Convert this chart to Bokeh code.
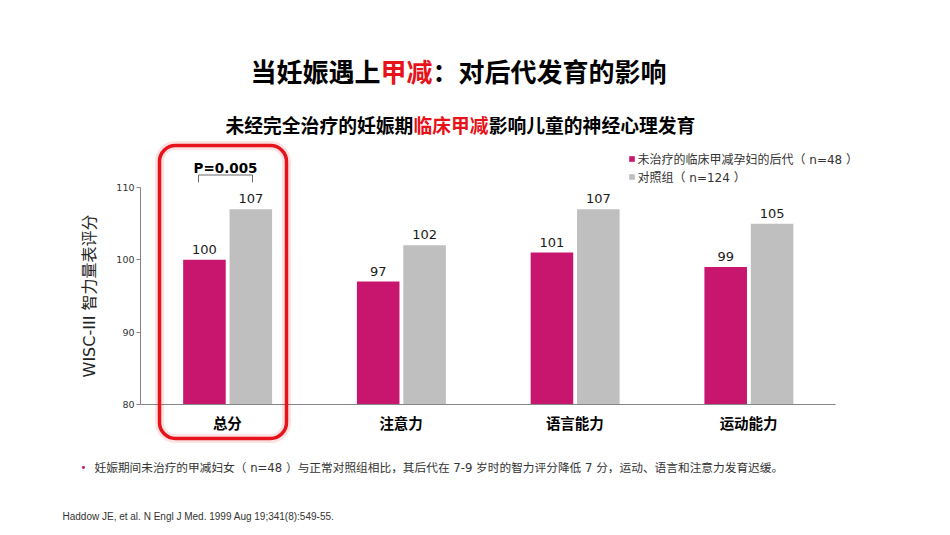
import math

from bokeh.plotting import figure
from bokeh.models import (ColumnDataSource, FactorRange, Range1d, FixedTicker, Label,
                          BoxAnnotation, Arrow, Legend, LegendItem)
from bokeh.transform import dodge
from bokeh.core.properties import value
from bokeh.embed import file_html
from bokeh.resources import INLINE

# ---- data -------------------------------------------------------------
categories = ["总分", "注意力", "语言能力", "运动能力"]
untreated = [100, 97, 101, 99]      # offspring of untreated hypothyroid mothers
control = [107, 102, 107, 105]      # control group
y_ticks = [80, 90, 100, 110]
series_names = ["未治疗的临床甲减孕妇的后代（ n=48 ）", "对照组（ n=124 ）"]
p_value_text = "P=0.005"
y_title = "WISC-III 智力量表评分"

title_parts = [("当妊娠遇上", "black"), ("甲减", "red"), ("：对后代发育的影响", "black")]
subtitle_parts = [("未经完全治疗的妊娠期", "black"), ("临床甲减", "red"), ("影响儿童的神经心理发育", "black")]
note_text = "妊娠期间未治疗的甲减妇女（ n=48 ）与正常对照组相比，其后代在 7-9 岁时的智力评分降低 7 分，运动、语言和注意力发育迟缓。"
citation = "Haddow JE, et al. N Engl J Med. 1999 Aug 19;341(8):549-55."

# ---- styling ----------------------------------------------------------
MAGENTA = "#C8166E"
GREY = "#BFBFBF"
RED = "#E8121A"
AXIS = "#868686"
CJK = "Noto Sans CJK SC"
MIXED = "DejaVu Sans, Noto Sans CJK SC"

W, H = 950, 535
# where the value axes sit on the canvas (pixels from top-left)
AX_L, AX_R, AX_T, AX_B = 140, 835, 187, 404
Y0, Y1 = y_ticks[0], y_ticks[-1]
FRAME_L = 25                         # plotting frame spans x = 25..950, y = 0..535

PX_PER_CAT = (AX_R - AX_L) / len(categories)
PX_PER_Y = (AX_B - AX_T) / (Y1 - Y0)


def fx(px):
    """canvas x pixel -> categorical synthetic coordinate"""
    return (px - AX_L) / PX_PER_CAT


def fy(py):
    """canvas y pixel -> data y"""
    return Y0 + (AX_B - py) / PX_PER_Y


# absolute padding (applied on each side) so that category 0 starts at AX_L
pad_units = (AX_L - FRAME_L) / PX_PER_CAT
x_range = FactorRange(factors=categories, range_padding=pad_units,
                      range_padding_units="absolute")
y_range = Range1d(fy(H), fy(0))

p = figure(width=W, height=H, x_range=x_range, y_range=y_range,
           output_backend="svg", toolbar_location=None,
           min_border_left=FRAME_L, min_border_right=0,
           min_border_top=0, min_border_bottom=0)
p.outline_line_color = None
p.grid.visible = False
p.background_fill_color = "white"
p.border_fill_color = "white"

LBL_GAP = 10.5 / PX_PER_Y            # value labels sit just above each bar
src = ColumnDataSource(dict(
    cat=categories, a=untreated, b=control,
    a_txt=[str(v) for v in untreated], b_txt=[str(v) for v in control],
    a_lbl=[v + LBL_GAP for v in untreated],
    b_lbl=[v + LBL_GAP for v in control],
))

OFF_A, OFF_B, BW = -0.132, 0.135, 0.245
ra = p.vbar(x=dodge("cat", OFF_A, range=p.x_range), top="a", bottom=Y0, width=BW,
            source=src, fill_color=MAGENTA, line_color=None)
rb = p.vbar(x=dodge("cat", OFF_B, range=p.x_range), top="b", bottom=Y0, width=BW,
            source=src, fill_color=GREY, line_color=None)

for off, col in ((OFF_A, "a"), (OFF_B, "b")):
    p.text(x=dodge("cat", off, range=p.x_range), y=col + "_lbl", text=col + "_txt", source=src,
           text_align="center", text_baseline="alphabetic",
           text_font=value("DejaVu Sans"), text_font_size="13px", text_color="#1a1a1a")

# ---- axes (pinned inside the frame) -----------------------------------
ya = p.yaxis[0]
ya.fixed_location = 0
ya.bounds = (Y0, Y1)
ya.ticker = FixedTicker(ticks=y_ticks)
ya.minor_tick_line_color = None
ya.major_tick_in = 0
ya.major_tick_out = 4
ya.major_tick_line_color = AXIS
ya.axis_line_color = AXIS
ya.major_label_standoff = 2
ya.major_label_text_font = "DejaVu Sans"
ya.major_label_text_font_size = "9.5px"
ya.major_label_text_color = "#333333"

xa = p.xaxis[0]
xa.fixed_location = Y0
xa.bounds = (0, len(categories))
xa.axis_line_color = AXIS
xa.major_tick_line_color = None
xa.minor_tick_line_color = None
xa.major_tick_in = 0
xa.major_tick_out = 0
xa.major_label_standoff = 7
xa.major_label_text_font = CJK
xa.major_label_text_font_style = "bold"
xa.major_label_text_font_size = "14.5px"
xa.major_label_text_color = "black"

p.add_layout(Label(x=fx(89), y=fy(295.5), text=y_title, angle=math.pi / 2,
                   text_align="center", text_baseline="middle",
                   text_font=MIXED, text_font_size="16px", text_color="#222222"))

# ---- legend -----------------------------------------------------------
legend = Legend(items=[LegendItem(label=series_names[0], renderers=[ra]),
                       LegendItem(label=series_names[1], renderers=[rb])],
                location=(627.5 - FRAME_L, H - 185), orientation="vertical",
                glyph_width=7, glyph_height=7, label_height=18, label_standoff=3,
                padding=0, spacing=0, margin=0,
                border_line_color=None, background_fill_alpha=0,
                label_text_font=MIXED, label_text_font_size="12px",
                label_text_color="#333333")
p.add_layout(legend, "center")

# ---- highlight box around the total score group ------------------------
box_kw = dict(left=fx(159), right=fx(286), top=fy(145), bottom=fy(438),
              fill_color=None, border_radius=16)
p.add_layout(BoxAnnotation(line_color=RED, line_alpha=0.12, line_width=9, **box_kw))
p.add_layout(BoxAnnotation(line_color=RED, line_alpha=1.0, line_width=3.5, **box_kw))

# significance bracket over the total score pair
bx0, bx1 = fx(198), fx(252)
by_top, by_bot = fy(174.5), fy(182)
for xs, ys, xe, ye in ((bx0, by_top, bx1, by_top), (bx0, by_top, bx0, by_bot), (bx1, by_top, bx1, by_bot)):
    p.add_layout(Arrow(x_start=xs, y_start=ys, x_end=xe, y_end=ye, start=None, end=None,
                       line_color="#6b6b6b", line_width=1))
p.add_layout(Label(x=(bx0 + bx1) / 2, y=fy(167), text=p_value_text,
                   text_align="center", text_baseline="middle",
                   text_font="DejaVu Sans", text_font_style="bold",
                   text_font_size="13.5px", text_color="black"))


# ---- titles -----------------------------------------------------------
def add_runs(parts, x_start, py, size):
    x = x_start
    for txt, color in parts:
        p.add_layout(Label(x=fx(x), y=fy(py), text=txt, text_align="left",
                           text_baseline="middle", text_font=CJK,
                           text_font_style="bold", text_font_size=f"{size}px",
                           text_color=RED if color == "red" else "black"))
        x += len(txt) * size


add_runs(title_parts, 250, 70, 26)
add_runs(subtitle_parts, 225, 124, 18.8)

# ---- footnotes --------------------------------------------------------
p.add_layout(Label(x=fx(83), y=fy(467), text="•", text_align="center", text_baseline="middle",
                   text_font="DejaVu Sans", text_font_size="10px", text_color=MAGENTA))
p.add_layout(Label(x=fx(94), y=fy(467), text=note_text, text_align="left", text_baseline="middle",
                   text_font=MIXED, text_font_size="11.7px", text_color="#333333"))
p.add_layout(Label(x=fx(62), y=fy(516), text=citation, text_align="left", text_baseline="middle",
                   text_font="Liberation Sans", text_font_size="10px",
                   text_color="#333333"))

open("out.html", "w").write(file_html(p, INLINE))
